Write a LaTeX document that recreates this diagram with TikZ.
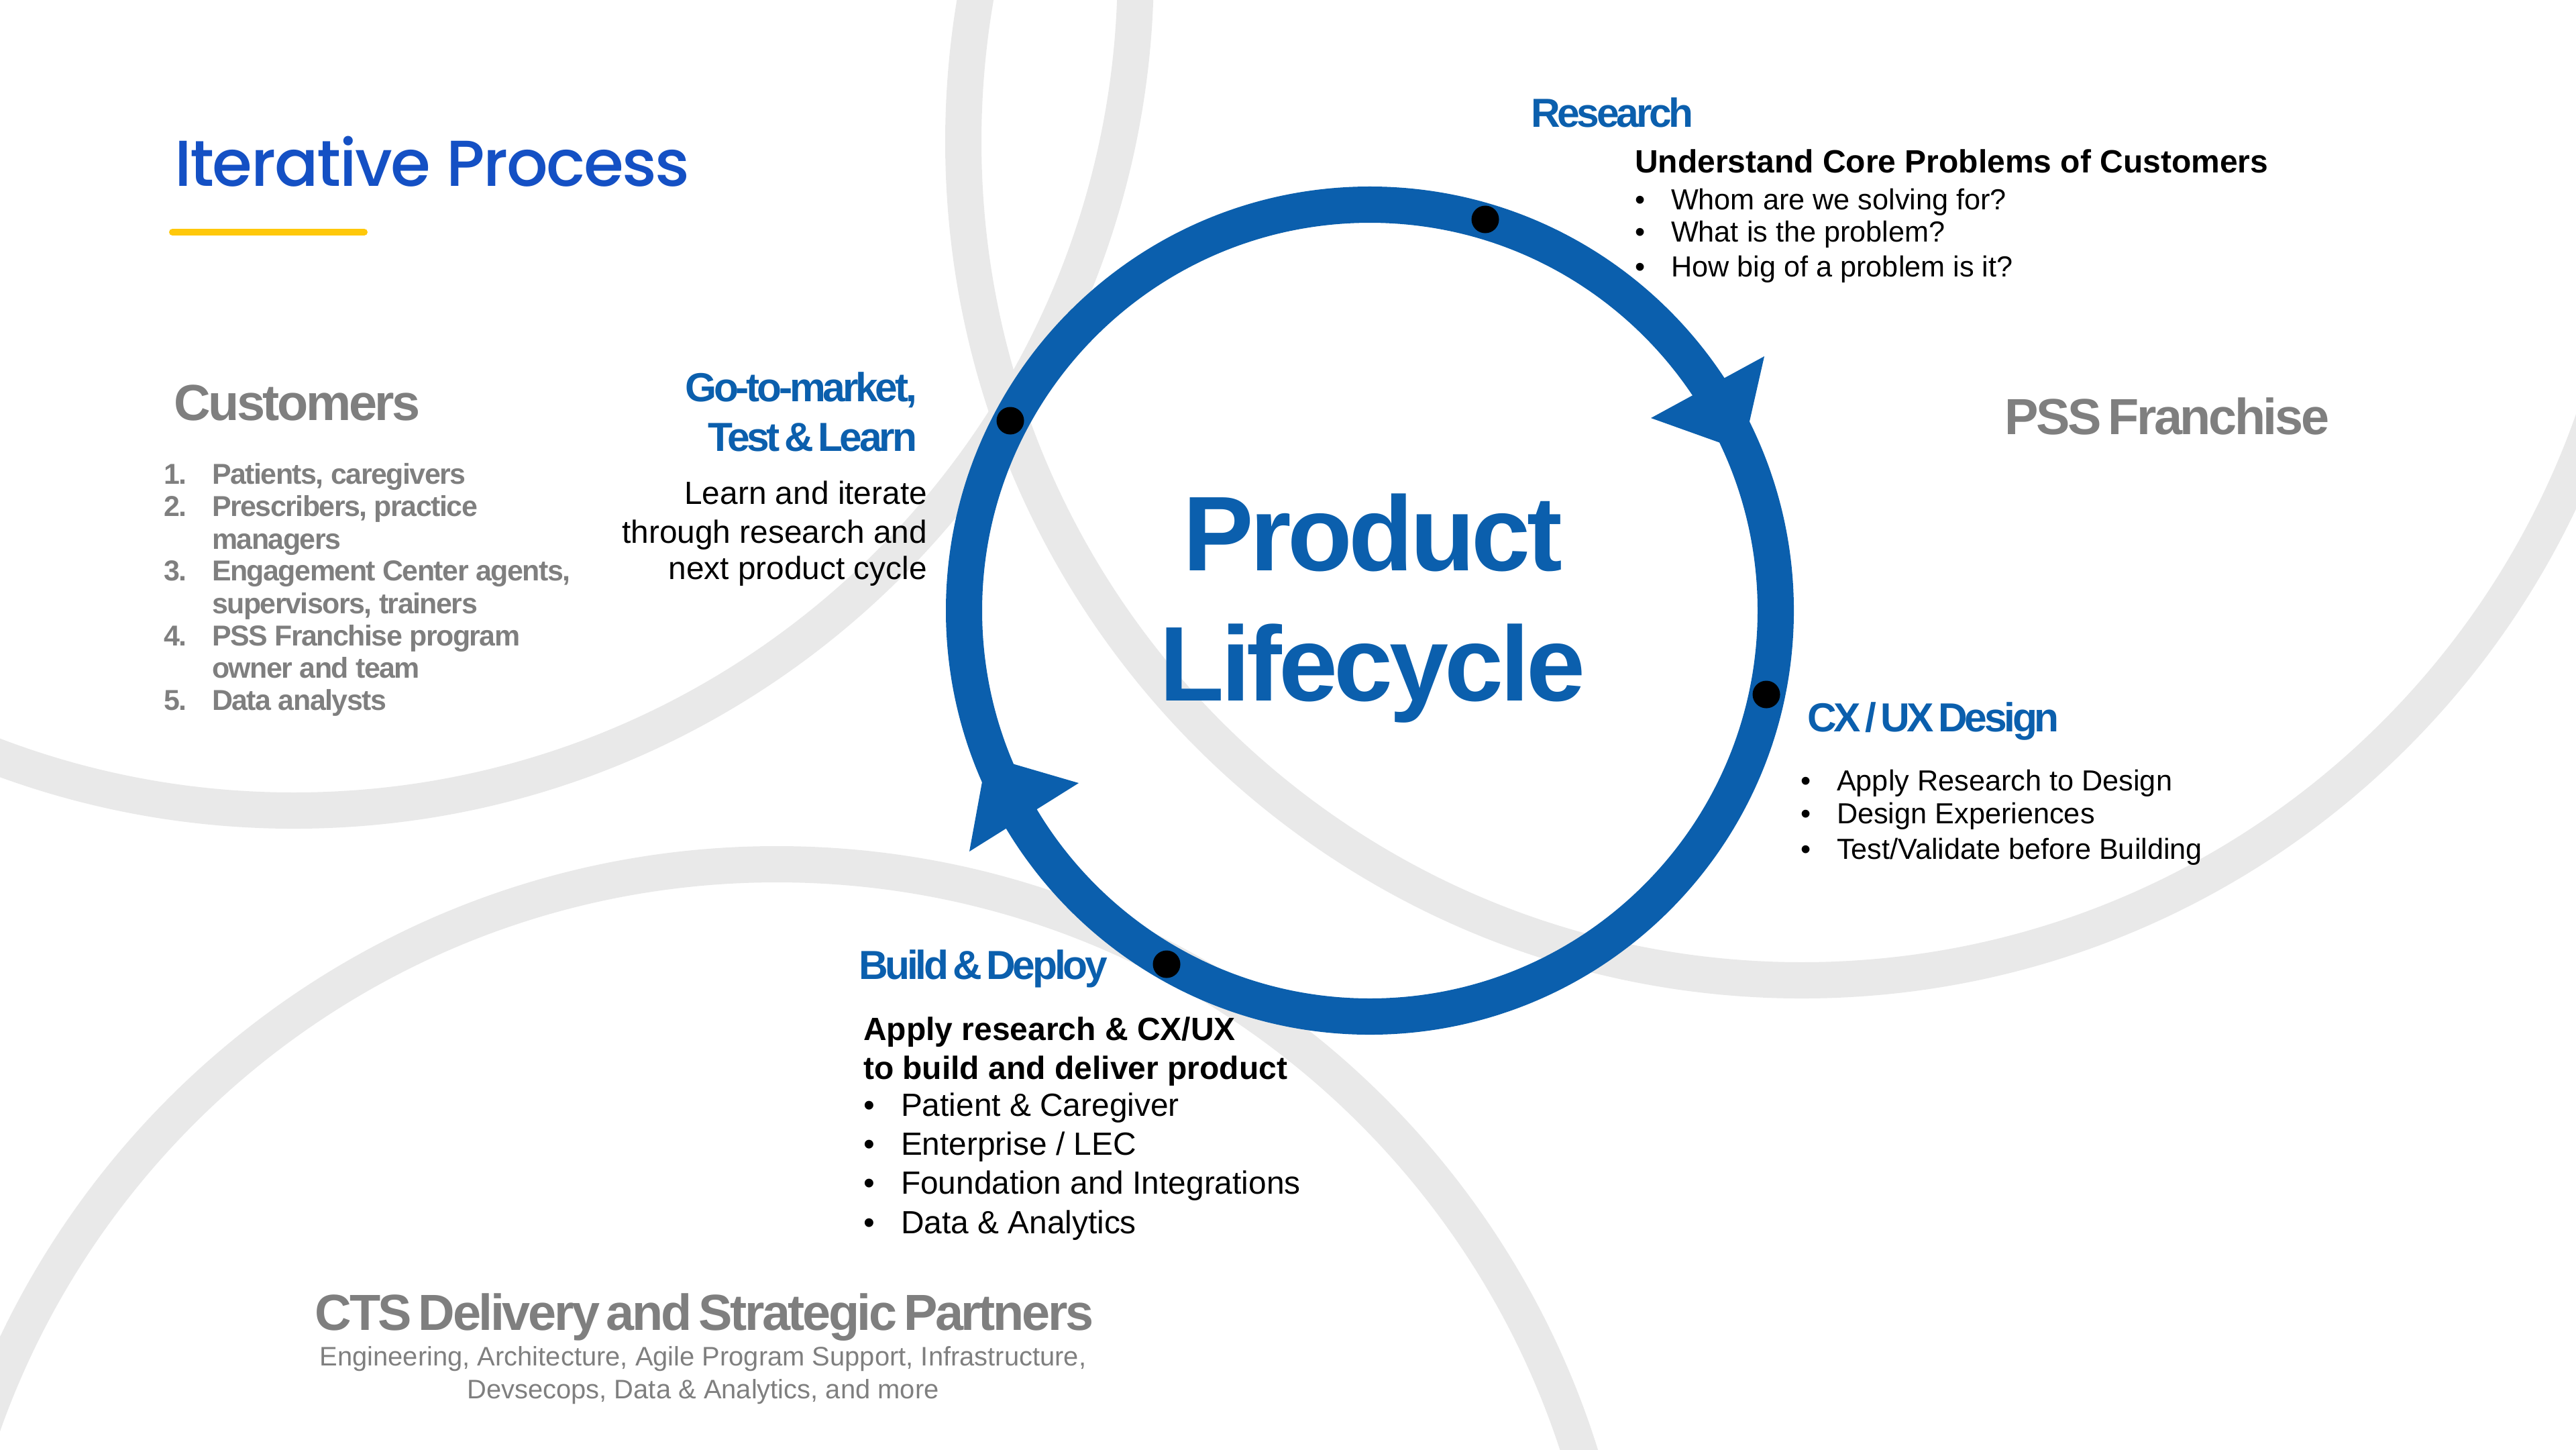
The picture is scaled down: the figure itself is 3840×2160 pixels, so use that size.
\documentclass[tikz,border=0pt]{standalone}
\usepackage{fontspec}
\usepackage{tikz}
\setmainfont{Liberation Sans}
\newfontfamily\headfont[LetterSpace=-7,WordSpace=0.5]{Liberation Sans}
\newfontfamily\grayfont[LetterSpace=-4.5,WordSpace=0.55]{Liberation Sans}
\newfontfamily\bigfont[LetterSpace=-3.4]{Liberation Sans}
\newfontfamily\listfont[LetterSpace=-3.5]{Liberation Sans}
\newfontfamily\titlefont[LetterSpace=-2.4]{Poppins Medium}
\definecolor{ringblue}{HTML}{0B5FAD}
\definecolor{titleblue}{HTML}{1450C4}
\definecolor{arcgray}{HTML}{E9E9E9}
\definecolor{textgray}{HTML}{7F7F7F}
\definecolor{baryellow}{HTML}{FFC80A}
\newcommand{\bul}[1]{\makebox[#1][l]{•}}
\tikzset{
  line/.style={inner sep=0pt, outer sep=0pt, anchor=base west},
  rline/.style={line, anchor=base east},
  cline/.style={line, anchor=base},
  bluehead/.style={font=\headfont\bfseries\fontsize{17.2pt}{20pt}\selectfont, text=ringblue},
  grayhead/.style={font=\grayfont\bfseries\fontsize{21.5pt}{24pt}\selectfont, text=textgray},
  body/.style={font=\fontsize{12.3pt}{15pt}\selectfont, text=black},
  bigbody/.style={font=\fontsize{13.6pt}{16pt}\selectfont, text=black},
  boldbody/.style={font=\bfseries\fontsize{13.65pt}{16pt}\selectfont, text=black},
  graylist/.style={font=\listfont\bfseries\fontsize{12.2pt}{15pt}\selectfont, text=textgray},
  graysub/.style={font=\fontsize{11.35pt}{15pt}\selectfont, text=textgray},
  bigtext/.style={font=\bigfont\bfseries\fontsize{45pt}{50pt}\selectfont, text=ringblue},
  dot/.style={circle, fill=black, inner sep=0pt, minimum size=0.41cm},
  arc/.style={draw=arcgray, line width=0.54cm}
}
\begin{document}
\begin{tikzpicture}[x=0.01cm,y=-0.01cm]
\useasboundingbox (0,0) rectangle (3840,2160);
\clip (0,0) rectangle (3840,2160);

% background circles
\draw[arc] (438,-47) circle (1255);
\draw[arc] (2686,211) circle (1250);
\draw[arc] (1158,2543) circle (1255);

% lifecycle ring
\draw[draw=ringblue, line width=0.54cm] (2042,910) circle (605);
\fill[ringblue] (2630,531) -- (2461,623) -- (2598,672) -- cycle;
\fill[ringblue] (1608,1167) -- (1445,1269) -- (1471,1127) -- cycle;
\node[dot] (research) at (2214,327) {};
\node[dot] (market) at (1506,627) {};
\node[dot] (design) at (2633,1035) {};
\node[dot] (build) at (1739,1437) {};

% title
\node[line, font=\titlefont\fontsize{27.5pt}{30pt}\selectfont, text=titleblue] (title) at (260,277) {Iterative Process};
\draw[baryellow, line width=0.1cm, line cap=round] (257,346) -- (543,346);
\node[cline, bigtext] (product) at (2046,850) {Product};
\node[cline, bigtext] (lifecycle) at (2046,1044) {Lifecycle};

% customers
\node[line, grayhead] (customers) at (259,626) {Customers};
\node[line, graylist] (c1) at (244,721) {\makebox[0.72cm][l]{1.}Patients, caregivers};
\node[line, graylist] (c2) at (244,769) {\makebox[0.72cm][l]{2.}Prescribers, practice};
\node[line, graylist] (c2b) at (316,818) {managers};
\node[line, graylist] (c3) at (244,865) {\makebox[0.72cm][l]{3.}Engagement Center agents,};
\node[line, graylist] (c3b) at (316,914) {supervisors, trainers};
\node[line, graylist] (c4) at (244,962) {\makebox[0.72cm][l]{4.}PSS Franchise program};
\node[line, graylist] (c4b) at (316,1010) {owner and team};
\node[line, graylist] (c5) at (244,1058) {\makebox[0.72cm][l]{5.}Data analysts};

% go to market
\node[rline, bluehead] (m1) at (1367,598) {Go-to-market,};
\node[rline, bluehead] (m2) at (1367,672) {Test \& Learn};
\node[rline, bigbody] (m3) at (1382,751) {Learn and iterate};
\node[rline, bigbody] (m4) at (1382,809) {through research and};
\node[rline, bigbody] (m5) at (1382,863) {next product cycle};

% research
\node[line, bluehead] (r0) at (2282,189) {Research};
\node[line, boldbody] (r1) at (2437,257) {Understand Core Problems of Customers};
\node[line, body] (r2) at (2437,312) {\bul{0.54cm}Whom are we solving for?};
\node[line, body] (r3) at (2437,360) {\bul{0.54cm}What is the problem?};
\node[line, body] (r4) at (2437,412) {\bul{0.54cm}How big of a problem is it?};

% franchise
\node[line, grayhead] (pss) at (2988,647) {PSS Franchise};

% design
\node[line, bluehead] (d0) at (2694,1090) {CX / UX Design};
\node[line, body] (d1) at (2684,1178) {\bul{0.54cm}Apply Research to Design};
\node[line, body] (d2) at (2684,1227) {\bul{0.54cm}Design Experiences};
\node[line, body] (d3) at (2684,1280) {\bul{0.54cm}Test/Validate before Building};

% build
\node[line, bluehead] (b0) at (1280,1459) {Build \& Deploy};
\node[line, boldbody] (b1) at (1287,1550) {Apply research \& CX/UX};
\node[line, boldbody] (b2) at (1287,1608) {to build and deliver product};
\node[line, bigbody] (b3) at (1287,1663) {\bul{0.56cm}Patient \& Caregiver};
\node[line, bigbody] (b4) at (1287,1721) {\bul{0.56cm}Enterprise / LEC};
\node[line, bigbody] (b5) at (1287,1779) {\bul{0.56cm}Foundation and Integrations};
\node[line, bigbody] (b6) at (1287,1838) {\bul{0.56cm}Data \& Analytics};

% partners
\node[cline, grayhead] (cts) at (1050,1982) {CTS Delivery and Strategic Partners};
\node[cline, graysub] (s1) at (1048,2035) {Engineering, Architecture, Agile Program Support, Infrastructure,};
\node[cline, graysub] (s2) at (1048,2084) {Devsecops, Data \& Analytics, and more};
\end{tikzpicture}
\end{document}
